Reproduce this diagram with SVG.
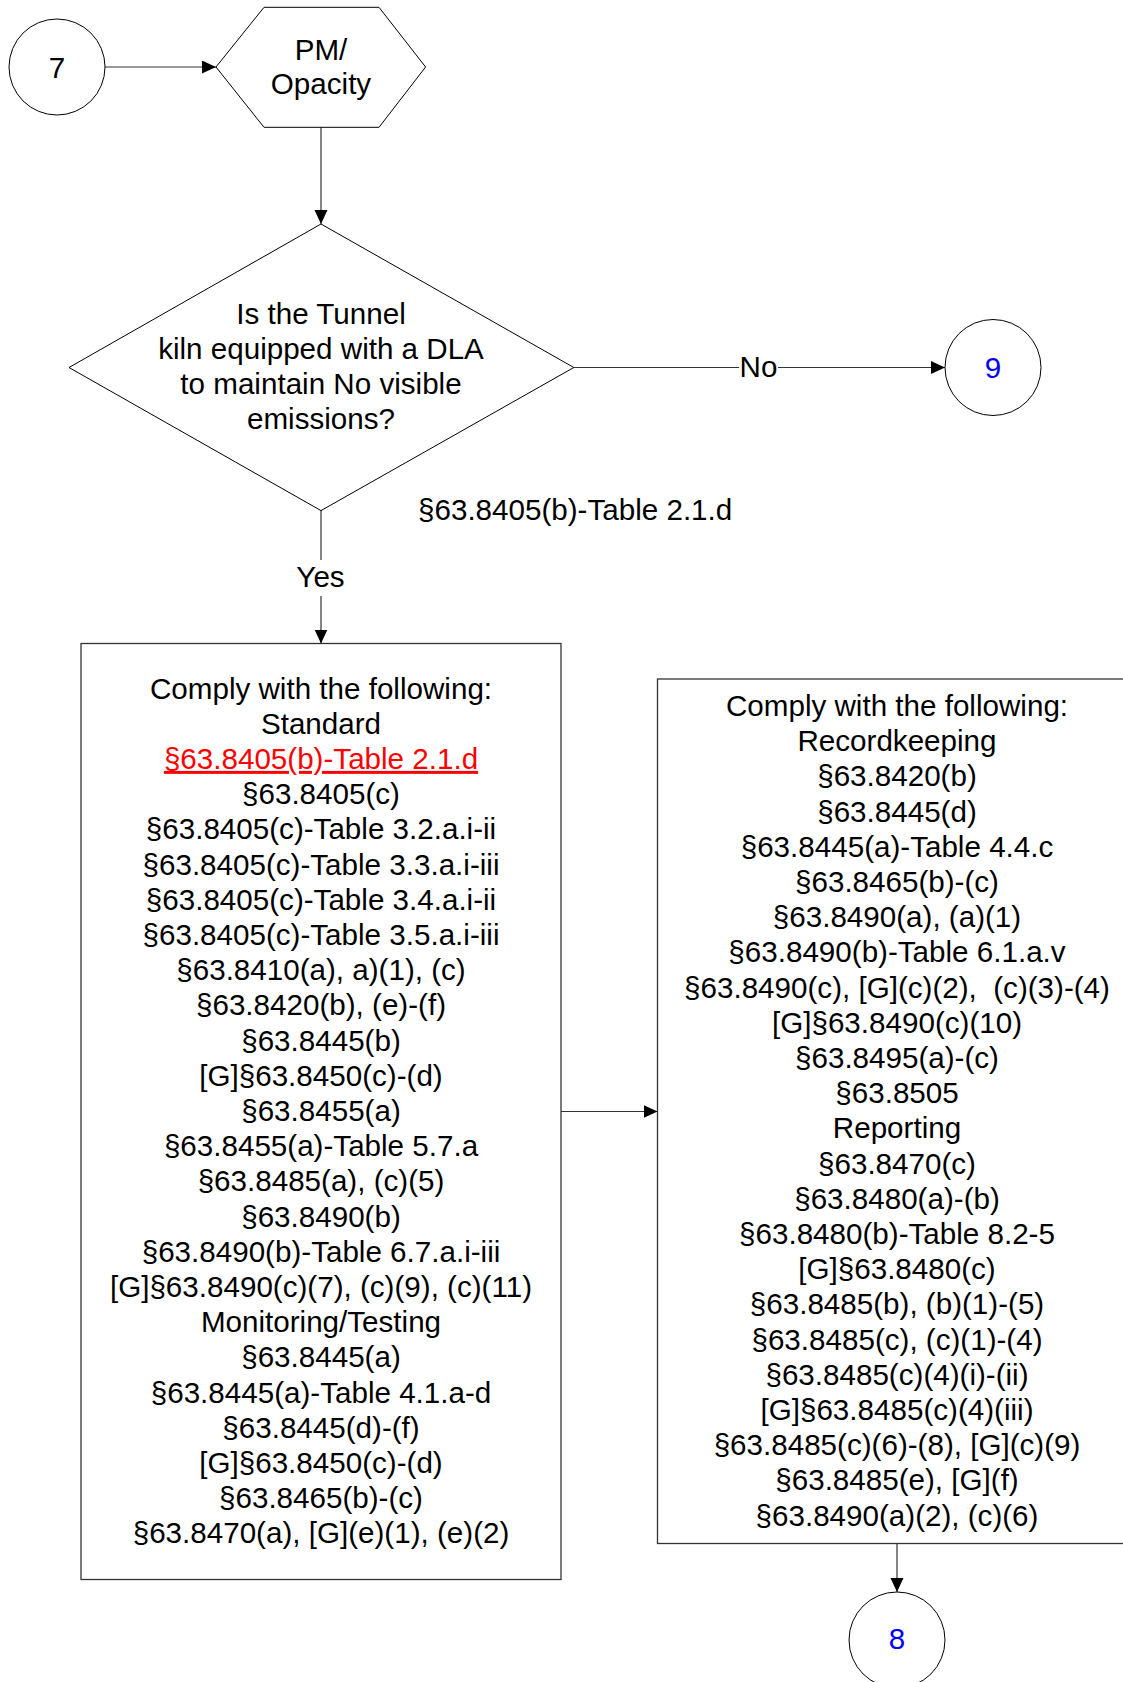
<svg xmlns="http://www.w3.org/2000/svg" width="1123" height="1682" viewBox="0 0 1123 1682">
<style>
text{font-family:"Liberation Sans",Arial,sans-serif;font-size:29.6px;fill:#000;text-anchor:middle}
.shape{fill:#fff;stroke:#000;stroke-width:1}
.box{fill:#fff;stroke:#333;stroke-width:1.3}
.conn{fill:none;stroke:#333;stroke-width:1.2}
.blue{fill:#0000ff}
.red{fill:#ff0000;text-decoration:underline}
.left{text-anchor:start}
</style>
<defs>
<marker id="arr" markerUnits="userSpaceOnUse" markerWidth="14" markerHeight="14" refX="14" refY="6.5" orient="auto">
<path d="M0,0 L14,6.5 L0,13 z" fill="#000"/>
</marker>
</defs>
<rect width="1123" height="1682" fill="#fff"/>

<g id="connectors">
<path class="conn" d="M105,67 H216" marker-end="url(#arr)"/>
<path class="conn" d="M321,127.3 V224" marker-end="url(#arr)"/>
<path class="conn" d="M573.8,367.5 H739 M778,367.5 H945" marker-end="url(#arr)"/>
<path class="conn" d="M321,510.6 V560 M321,596 V643.5" marker-end="url(#arr)"/>
<path class="conn" d="M561,1111.5 H657.5" marker-end="url(#arr)"/>
<path class="conn" d="M897,1543.5 V1592" marker-end="url(#arr)"/>
<text x="758.5" y="376.5">No</text>
<text x="320.5" y="586.5">Yes</text>
<text class="left" x="418" y="520">§63.8405(b)-Table 2.1.d</text>
</g>

<g id="node-7">
<circle class="shape" cx="57" cy="67" r="48"/>
<text x="57" y="77.5">7</text>
</g>

<g id="node-pm">
<polygon class="shape" points="216,67 264,7.3 379,7.3 425.6,67 379,127.3 264,127.3"/>
<text x="321" y="60">PM/</text>
<text x="321" y="94">Opacity</text>
</g>

<g id="node-decision">
<polygon class="shape" points="321,224 573.8,367.5 321,510.6 69,367.5"/>
<text x="321" y="324">Is the Tunnel</text>
<text x="321" y="359">kiln equipped with a DLA</text>
<text x="321" y="394">to maintain No visible</text>
<text x="321" y="429">emissions?</text>
</g>

<g id="node-9">
<circle class="shape" cx="993" cy="367.5" r="48"/>
<text class="blue" x="993" y="377.5">9</text>
</g>

<g id="node-left-box">
<rect class="box" x="81" y="643.5" width="480" height="936"/>
<text x="321" y="698.5">Comply with the following:</text>
<text x="321" y="733.7">Standard</text>
<text class="red" x="321" y="768.9">§63.8405(b)-Table 2.1.d</text>
<text x="321" y="804.1">§63.8405(c)</text>
<text x="321" y="839.3">§63.8405(c)-Table 3.2.a.i-ii</text>
<text x="321" y="874.5">§63.8405(c)-Table 3.3.a.i-iii</text>
<text x="321" y="909.7">§63.8405(c)-Table 3.4.a.i-ii</text>
<text x="321" y="944.9">§63.8405(c)-Table 3.5.a.i-iii</text>
<text x="321" y="980.1">§63.8410(a), a)(1), (c)</text>
<text x="321" y="1015.3">§63.8420(b), (e)-(f)</text>
<text x="321" y="1050.5">§63.8445(b)</text>
<text x="321" y="1085.7">[G]§63.8450(c)-(d)</text>
<text x="321" y="1120.9">§63.8455(a)</text>
<text x="321" y="1156.1">§63.8455(a)-Table 5.7.a</text>
<text x="321" y="1191.3">§63.8485(a), (c)(5)</text>
<text x="321" y="1226.5">§63.8490(b)</text>
<text x="321" y="1261.7">§63.8490(b)-Table 6.7.a.i-iii</text>
<text x="321" y="1296.9">[G]§63.8490(c)(7), (c)(9), (c)(11)</text>
<text x="321" y="1332.1">Monitoring/Testing</text>
<text x="321" y="1367.3">§63.8445(a)</text>
<text x="321" y="1402.5">§63.8445(a)-Table 4.1.a-d</text>
<text x="321" y="1437.7">§63.8445(d)-(f)</text>
<text x="321" y="1472.9">[G]§63.8450(c)-(d)</text>
<text x="321" y="1508.1">§63.8465(b)-(c)</text>
<text x="321" y="1543.3">§63.8470(a), [G](e)(1), (e)(2)</text>
</g>

<g id="node-right-box">
<rect class="box" x="657.5" y="679" width="480" height="864.5"/>
<text x="897" y="716">Comply with the following:</text>
<text x="897" y="751.2">Recordkeeping</text>
<text x="897" y="786.4">§63.8420(b)</text>
<text x="897" y="821.6">§63.8445(d)</text>
<text x="897" y="856.8">§63.8445(a)-Table 4.4.c</text>
<text x="897" y="892">§63.8465(b)-(c)</text>
<text x="897" y="927.2">§63.8490(a), (a)(1)</text>
<text x="897" y="962.4">§63.8490(b)-Table 6.1.a.v</text>
<text x="897" y="997.6" xml:space="preserve">§63.8490(c), [G](c)(2),  (c)(3)-(4)</text>
<text x="897" y="1032.8">[G]§63.8490(c)(10)</text>
<text x="897" y="1068">§63.8495(a)-(c)</text>
<text x="897" y="1103.2">§63.8505</text>
<text x="897" y="1138.4">Reporting</text>
<text x="897" y="1173.6">§63.8470(c)</text>
<text x="897" y="1208.8">§63.8480(a)-(b)</text>
<text x="897" y="1244">§63.8480(b)-Table 8.2-5</text>
<text x="897" y="1279.2">[G]§63.8480(c)</text>
<text x="897" y="1314.4">§63.8485(b), (b)(1)-(5)</text>
<text x="897" y="1349.6">§63.8485(c), (c)(1)-(4)</text>
<text x="897" y="1384.8">§63.8485(c)(4)(i)-(ii)</text>
<text x="897" y="1420">[G]§63.8485(c)(4)(iii)</text>
<text x="897" y="1455.2">§63.8485(c)(6)-(8), [G](c)(9)</text>
<text x="897" y="1490.4">§63.8485(e), [G](f)</text>
<text x="897" y="1525.6">§63.8490(a)(2), (c)(6)</text>
</g>

<g id="node-8">
<circle class="shape" cx="897" cy="1640" r="48"/>
<text class="blue" x="897" y="1648.5">8</text>
</g>
</svg>
